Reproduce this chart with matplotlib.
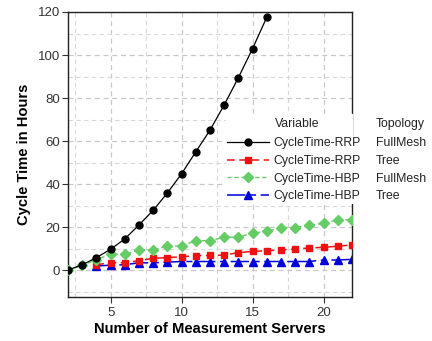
import numpy as np
import matplotlib.pyplot as plt
from matplotlib.ticker import MultipleLocator

plt.rcParams['font.family'] = ['Liberation Sans', 'DejaVu Sans']

# data
servers = np.arange(2, 23)
rrp_full_x = np.arange(2, 17)
rrp_full = [0, 2.5, 5.8, 9.7, 14.5, 21, 27.8, 35.9, 44.8, 55, 65.1, 76.8, 89.5, 103, 117.6]
rrp_tree_x = np.arange(4, 23)
rrp_tree = [2.5, 3.4, 3.4, 4.4, 5.5, 5.8, 6.2, 6.7, 6.8, 7.0, 8.1, 8.7, 9.0, 9.4, 9.8, 10.3, 10.6, 11.1, 11.7]
hbp_full = [0, 2.2, 4.8, 7.5, 7.3, 9.4, 9.4, 11.2, 11.2, 13.7, 13.7, 15.3, 15.3, 17.2, 18.0,
            19.8, 19.8, 20.9, 21.8, 23.4, 23.4]
hbp_tree_x = np.arange(4, 23)
hbp_tree = [1.9, 2.3, 2.5, 3.4, 3.4, 3.7, 4.0, 4.0, 4.0, 4.0, 4.0, 4.0, 4.0, 4.0, 4.0, 4.0, 4.7, 4.7, 5.0]

variables = ['CycleTime-RRP', 'CycleTime-RRP', 'CycleTime-HBP', 'CycleTime-HBP']
topologies = ['FullMesh', 'Tree', 'FullMesh', 'Tree']

fig = plt.figure(figsize=(4.32, 3.41), dpi=100)
ax = fig.add_axes([68/432, 1-297/341, (352-68)/432, (297-12)/341])

h1, = ax.plot(rrp_full_x, rrp_full, color='black', lw=0.9, marker='o', ms=5, zorder=5)
h2, = ax.plot(rrp_tree_x, rrp_tree, color='#ee1111', lw=1.1, ls=(0, (5, 3)), marker='s', ms=5, zorder=3)
h3, = ax.plot(servers, hbp_full, color='#66cc66', lw=1.0, ls=(0, (3, 2)), marker='D', ms=5, zorder=4)
h4, = ax.plot(hbp_tree_x, hbp_tree, color='#0000dd', lw=1.1, ls=(0, (12, 3, 4, 3)), marker='^', ms=5.5, zorder=2)

ax.set_xlim(2, 22)
ax.set_ylim(-12.5, 120)
ax.xaxis.set_major_locator(MultipleLocator(5))
ax.xaxis.set_minor_locator(MultipleLocator(2.5))
ax.yaxis.set_major_locator(MultipleLocator(20))
ax.yaxis.set_minor_locator(MultipleLocator(10))
ax.grid(True, which='major', color='#c8c8c8', ls=(0, (4, 3)), lw=0.9)
ax.grid(True, which='minor', color='#d8d8d8', ls=(0, (4, 3)), lw=0.8)
ax.set_axisbelow(True)
ax.tick_params(which='minor', length=0)
ax.tick_params(which='major', direction='out', length=4, width=0.8, labelsize=9.5,
               labelcolor='#333333', color='#333333')
ax.tick_params(axis='y', pad=1.5)
for s in ax.spines.values():
    s.set_linewidth(1.0)
    s.set_color('#222222')

ax.set_xlabel('Number of Measurement Servers', fontsize=10.6, fontweight='bold', labelpad=2)
ax.set_ylabel('Cycle Time in Hours', fontsize=10.6, fontweight='bold', labelpad=5)

fs = 8.8
handles = [h1, h2, h3, h4]
leg1 = fig.legend(handles, variables, loc='upper left',
                  bbox_to_anchor=(226/432, 1-136/341), frameon=True, framealpha=1,
                  edgecolor='none', facecolor='white', fontsize=fs,
                  handlelength=3.4, handletextpad=0.4, labelspacing=0.47, borderpad=0.1,
                  borderaxespad=0)
for t in leg1.get_texts():
    t.set_color('#222222')

leg2 = fig.legend([plt.Line2D([], [], lw=0)] * 4, topologies, loc='upper left',
                  bbox_to_anchor=(375/432, 1-136/341), frameon=False, fontsize=fs,
                  handlelength=0, handletextpad=0, labelspacing=0.47,
                  borderpad=0.1, borderaxespad=0)
for t in leg2.get_texts():
    t.set_color('#222222')

# header row of the legend, white behind it like the legend box
fig.patches.append(plt.Rectangle((226/432, 1-137/341), (352-226)/432, 23/341,
                                 transform=fig.transFigure, color='white', zorder=2))
fig.text(275/432, 1-124/341, 'Variable', fontsize=fs, color='#222222', va='center', ha='left')
fig.text(376/432, 1-124/341, 'Topology', fontsize=fs, color='#222222', va='center', ha='left')

fig.savefig('out.png', dpi=100)
